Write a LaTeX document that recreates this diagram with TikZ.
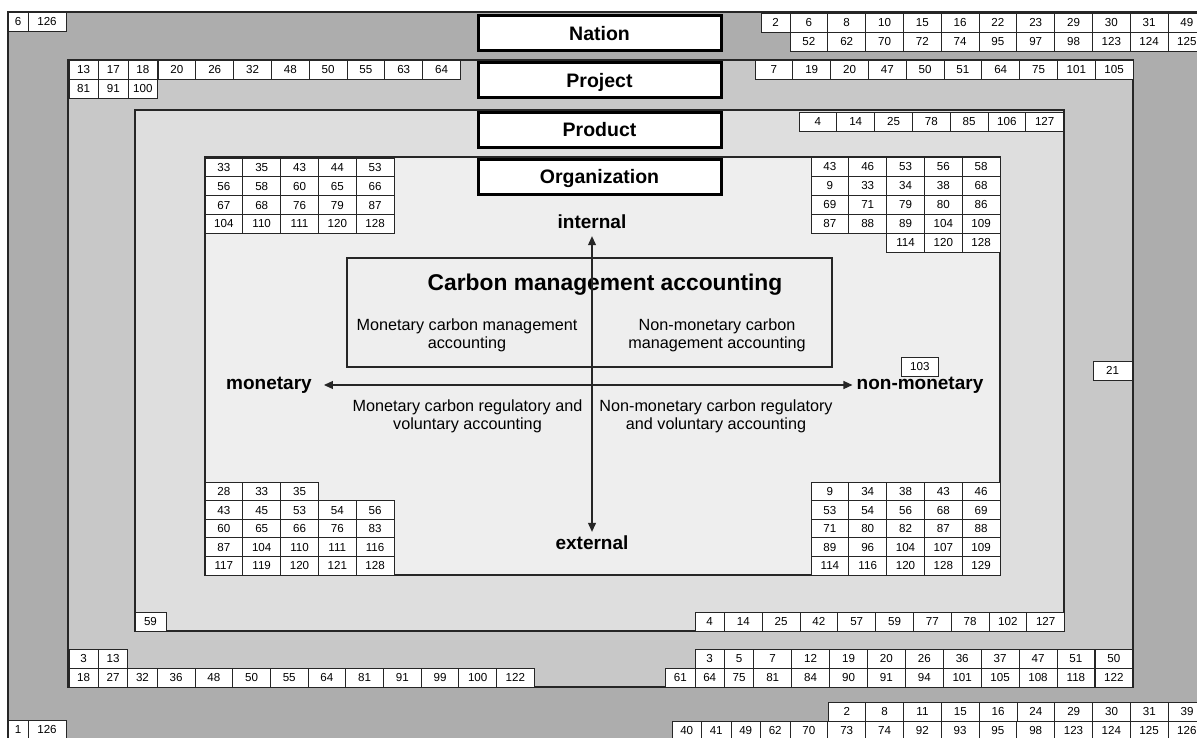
\documentclass[tikz,border=0pt]{standalone}
\usepackage{fontspec}
\setmainfont{Liberation Sans}
\usetikzlibrary{arrows.meta,positioning}

\definecolor{nationgray}{gray}{0.68}
\definecolor{projectgray}{gray}{0.785}
\definecolor{productgray}{gray}{0.87}
\definecolor{orggray}{gray}{0.935}
\definecolor{edgegray}{gray}{0.15}

\begin{document}
\begin{tikzpicture}[x=1pt, y=-1pt,
    cell/.style={draw=edgegray, fill=white, line width=0.8pt, anchor=north west,
        minimum height=19pt, inner sep=0pt, outer sep=0pt,
        font=\fontsize{11.6}{12}\selectfont},
    wide/.style={cell, minimum width=37.8pt},
    narrow/.style={cell, minimum width=29.4pt},
    level/.style={draw=black, line width=3pt, fill=white, minimum width=243pt,
        minimum height=35pt, text height=14pt, text depth=0pt,
        font=\bfseries\fontsize{19.5}{20}\selectfont},
    axislabel/.style={inner sep=2pt, font=\bfseries\fontsize{19}{20}\selectfont},
    quadtext/.style={align=center, font=\fontsize{16.2}{18.2}\selectfont},
    axis/.style={line width=1.1pt, edgegray,
        {Triangle[length=9pt,width=8pt]}-{Triangle[length=9pt,width=8pt]}}]
    \useasboundingbox (0,0) rectangle (1197,737);
    \clip (0,0) rectangle (1197,737);

    % Levels
    \draw[fill=nationgray, draw=edgegray, line width=1.2pt] (8,12) rectangle (1220,760);
    \draw[fill=projectgray, draw=edgegray, line width=2pt] (68,60) rectangle (1133,687);
    \draw[fill=productgray, draw=edgegray, line width=1.5pt] (135,110) rectangle (1064,631);
    \draw[fill=orggray, draw=edgegray, line width=1.2pt] (205,157) rectangle (1000,575);

    % Nation numbers
    \node[cell, minimum width=20pt] (nTL-1) at (8,12) {6};
    \node[cell, minimum width=38pt] (nTL-2) at (28,12) {126};
    \node[narrow] (nTR-0) at (761,13) {2};
    \foreach \n [count=\i] in {6,8,10,15,16,22,23,29,30,31,49}
        \node[wide] (nTR-\i) at ({790+(\i-1)*37.8},13) {\n};
    \foreach \n [count=\i] in {52,62,70,72,74,95,97,98,123,124,125}
        \node[wide] (nTRb-\i) at ({790+(\i-1)*37.8},32) {\n};
    \node[cell, minimum width=20pt] (nBL-1) at (8,720) {1};
    \node[cell, minimum width=38pt] (nBL-2) at (28,720) {126};
    \foreach \n [count=\i] in {2,8,11,15,16,24,29,30,31,39}
        \node[wide] (nBR-\i) at ({828+(\i-1)*37.8},702) {\n};
    \foreach \n [count=\i] in {40,41,49,62}
        \node[narrow] (nBRb-\i) at ({672+(\i-1)*29.5},721) {\n};
    \foreach \n [count=\i] in {70,73,74,92,93,95,98,123,124,125,126}
        \node[wide] (nBRc-\i) at ({790+(\i-1)*37.8},721) {\n};

    % Project numbers
    \foreach \n [count=\i] in {13,17,18}
        \node[narrow] (pTL-\i) at ({69+(\i-1)*29.6},60) {\n};
    \foreach \n [count=\i] in {20,26,32,48,50,55,63,64}
        \node[wide] (pTLb-\i) at ({158+(\i-1)*37.8},60) {\n};
    \foreach \n [count=\i] in {81,91,100}
        \node[narrow] (pTLc-\i) at ({69+(\i-1)*29.6},79) {\n};
    \foreach \n [count=\i] in {7,19,20,47,50,51,64,75,101,105}
        \node[wide] (pTR-\i) at ({755+(\i-1)*37.8},60) {\n};
    \node[cell, minimum width=39pt] (pR) at (1093,361) {21};
    \foreach \n [count=\i] in {3,13}
        \node[narrow] (pBL-\i) at ({69+(\i-1)*29.4},649) {\n};
    \foreach \n [count=\i] in {18,27,32}
        \node[narrow] (pBLb-\i) at ({69+(\i-1)*29.4},668) {\n};
    \foreach \n [count=\i] in {36,48,50,55,64,81,91,99,100,122}
        \node[wide] (pBLc-\i) at ({157.2+(\i-1)*37.7},668) {\n};
    \foreach \n [count=\i] in {3,5}
        \node[narrow] (pBR-\i) at ({695+(\i-1)*29.4},649) {\n};
    \foreach \n [count=\i] in {7,12,19,20,26,36,37,47,51,50}
        \node[wide] (pBRb-\i) at ({753.8+(\i-1)*37.9},649) {\n};
    \foreach \n [count=\i] in {61,64,75}
        \node[narrow] (pBRc-\i) at ({665.6+(\i-1)*29.4},668) {\n};
    \foreach \n [count=\i] in {81,84,90,91,94,101,105,108,118,122}
        \node[wide] (pBRd-\i) at ({753.8+(\i-1)*37.9},668) {\n};

    % Product numbers
    \foreach \n [count=\i] in {4,14,25,78,85,106,127}
        \node[wide] (prTR-\i) at ({799+(\i-1)*37.8},112) {\n};
    \node[cell, minimum width=31pt] (prBL) at (135,612) {59};
    \node[narrow] (prBR-0) at (695,612) {4};
    \foreach \n [count=\i] in {14,25,42,57,59,77,78,102,127}
        \node[wide] (prBR-\i) at ({724.4+(\i-1)*37.8},612) {\n};

    % Organization numbers
    \foreach \row [count=\j] in {{33,35,43,44,53},{56,58,60,65,66},{67,68,76,79,87},{104,110,111,120,128}}
        \foreach \n [count=\i] in \row
            \node[wide] (oTL-\j-\i) at ({205+(\i-1)*37.8},{158+(\j-1)*18.8}) {\n};
    \foreach \row [count=\j] in {{43,46,53,56,58},{9,33,34,38,68},{69,71,79,80,86},{87,88,89,104,109}}
        \foreach \n [count=\i] in \row
            \node[wide] (oTR-\j-\i) at ({811+(\i-1)*37.8},{157+(\j-1)*19}) {\n};
    \foreach \n [count=\i] in {114,120,128}
        \node[wide] (oTR-5-\i) at ({886.6+(\i-1)*37.8},233) {\n};
    \foreach \n [count=\i] in {28,33,35}
        \node[wide] (oBL-1-\i) at ({205+(\i-1)*37.8},482) {\n};
    \foreach \row [count=\j from 2] in {{43,45,53,54,56},{60,65,66,76,83},{87,104,110,111,116},{117,119,120,121,128}}
        \foreach \n [count=\i] in \row
            \node[wide] (oBL-\j-\i) at ({205+(\i-1)*37.8},{482+(\j-1)*18.6}) {\n};
    \foreach \row [count=\j] in {{9,34,38,43,46},{53,54,56,68,69},{71,80,82,87,88},{89,96,104,107,109},{114,116,120,128,129}}
        \foreach \n [count=\i] in \row
            \node[wide] (oBR-\j-\i) at ({811+(\i-1)*37.8},{482+(\j-1)*18.6}) {\n};
    \node[wide] (o103) at (901,357) {103};

    % Level names
    \node[level] (nation) at (599.5,33) {Nation};
    \node[level] (project) at (599.5,80) {Project};
    \node[level] (product) at (599.5,129.5) {Product};
    \node[level] (organization) at (599.5,176.5) {Organization};

    % Carbon management accounting
    \draw[edgegray, line width=1.2pt] (347,258) rectangle (832,367);
    \node[font=\bfseries\fontsize{22.8}{24}\selectfont] (cmatitle) at (605,285) {Carbon management accounting};
    \node[quadtext] (mcma) at (467,335) {Monetary carbon management\\accounting};
    \node[quadtext] (nmcma) at (717,335) {Non-monetary carbon\\management accounting};
    \node[quadtext] (mcrva) at (467.5,416) {Monetary carbon regulatory and\\voluntary accounting};
    \node[quadtext] (nmcrva) at (716,416) {Non-monetary carbon regulatory\\and voluntary accounting};

    % Axes
    \node[axislabel] (internal) at (592,222) {internal};
    \node[axislabel] (external) at (592,543) {external};
    \node[axislabel] (monetary) at (269,385) {monetary};
    \node[axislabel] (nonmonetary) at (920,385) {non-monetary};
    \draw[axis] ([yshift=-5pt]internal.south) -- ([yshift=2pt]external.north);
    \draw[axis] ([xshift=10pt]monetary.east) -- ([xshift=-2pt]nonmonetary.west);
\end{tikzpicture}
\end{document}
